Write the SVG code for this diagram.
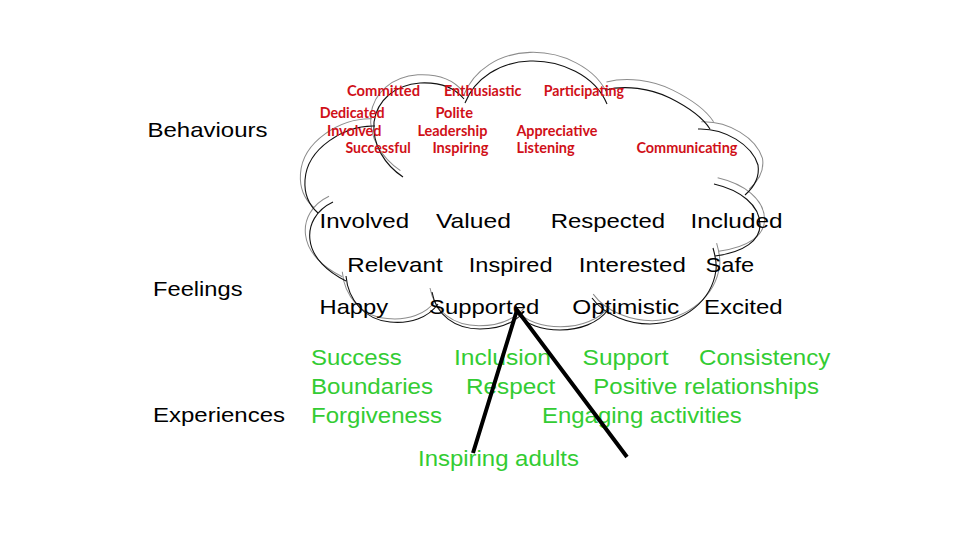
<svg xmlns="http://www.w3.org/2000/svg" width="960" height="540" viewBox="0 0 960 540">
<style>
  .bg{fill:#ffffff}
  .lobe{fill:none;stroke:#111111;stroke-width:1.1}
  .lobe2{fill:none;stroke:#8c8c8c;stroke-width:1}
  .lbl{font-family:"Liberation Sans",Arial,sans-serif;font-size:21px;fill:#000000}
  .beh{font-family:Lato,"Open Sans",sans-serif;font-weight:bold;font-size:15px;fill:#d01018}
  .feel{font-family:"Liberation Sans",Arial,sans-serif;font-size:21px;fill:#000000}
  .exp{font-family:"Liberation Sans",Arial,sans-serif;font-size:21.5px;fill:#33cc33}
  .conn{fill:none;stroke:#000000;stroke-width:4;stroke-linejoin:miter;stroke-linecap:butt}
</style>
<defs>
  <g id="cloudShape">
    <path d="M375,126 C345,125 307,148 305,180 C304,195 310,206 318,213"/>
    <path d="M403,177 C385,165 372,145 374,122 C377,100 395,85 420,83 C440,82 455,88 464,99"/>
    <path d="M465,103 C475,78 500,62 530,61 C560,60 595,75 607,104"/>
    <path d="M605,90 C625,85 650,88 670,98 C690,108 703,118 710,129"/>
    <path d="M698,129 C725,128 752,145 758,165 C760,178 753,188 745,195"/>
    <path d="M714,184 C740,190 760,205 760,225 C760,240 745,252 715,256"/>
    <path d="M713,248 C717,262 716,270 716,270 C712,300 685,323 650,324 C630,324 605,316 592,298"/>
    <path d="M517,313 C525,325 543,330 560,330 C580,330 598,323 608,310"/>
    <path d="M432,292 C436,315 455,329 480,329 C500,329 515,322 524,312"/>
    <path d="M346,276 C348,300 365,320 390,322 C410,324 428,318 438,304"/>
    <path d="M333,202 C316,210 308,225 310,240 C312,258 328,272 346,281"/>
  </g>
</defs>
<rect class="bg" x="0" y="0" width="960" height="540"/>

<g id="cloud">
  <use href="#cloudShape" class="lobe2" transform="translate(532 186) scale(1.02) translate(-532 -192)"/>
  <use href="#cloudShape" class="lobe"/>
</g>

<g id="labels">
  <text class="lbl" x="147.5" y="137.3" textLength="120" lengthAdjust="spacingAndGlyphs">Behaviours</text>
  <text class="lbl" x="153" y="295.5" textLength="89.5" lengthAdjust="spacingAndGlyphs">Feelings</text>
  <text class="lbl" x="153" y="421.7" textLength="132" lengthAdjust="spacingAndGlyphs">Experiences</text>
</g>

<g id="behaviours">
  <text class="beh" x="347" y="95.7" textLength="73" lengthAdjust="spacingAndGlyphs">Committed</text>
  <text class="beh" x="444" y="95.7" textLength="77.4" lengthAdjust="spacingAndGlyphs">Enthusiastic</text>
  <text class="beh" x="543.7" y="95.7" textLength="80.3" lengthAdjust="spacingAndGlyphs">Participating</text>
  <text class="beh" x="319.7" y="118.3" textLength="65" lengthAdjust="spacingAndGlyphs">Dedicated</text>
  <text class="beh" x="435.4" y="118.3" textLength="37.6" lengthAdjust="spacingAndGlyphs">Polite</text>
  <text class="beh" x="327" y="136" textLength="54.4" lengthAdjust="spacingAndGlyphs">Involved</text>
  <text class="beh" x="417.4" y="136" textLength="70" lengthAdjust="spacingAndGlyphs">Leadership</text>
  <text class="beh" x="516.4" y="136" textLength="81" lengthAdjust="spacingAndGlyphs">Appreciative</text>
  <text class="beh" x="345.4" y="153.3" textLength="65.3" lengthAdjust="spacingAndGlyphs">Successful</text>
  <text class="beh" x="432.4" y="153.3" textLength="56" lengthAdjust="spacingAndGlyphs">Inspiring</text>
  <text class="beh" x="516.4" y="153.3" textLength="58.3" lengthAdjust="spacingAndGlyphs">Listening</text>
  <text class="beh" x="636.4" y="153.3" textLength="101" lengthAdjust="spacingAndGlyphs">Communicating</text>
</g>

<g id="feelings">
  <text class="feel" x="319.5" y="228.3" textLength="89.6" lengthAdjust="spacingAndGlyphs">Involved</text>
  <text class="feel" x="436" y="228.3" textLength="75" lengthAdjust="spacingAndGlyphs">Valued</text>
  <text class="feel" x="550.7" y="228.3" textLength="114.3" lengthAdjust="spacingAndGlyphs">Respected</text>
  <text class="feel" x="690.5" y="228.3" textLength="92" lengthAdjust="spacingAndGlyphs">Included</text>
  <text class="feel" x="347.3" y="271.7" textLength="95.4" lengthAdjust="spacingAndGlyphs">Relevant</text>
  <text class="feel" x="468.8" y="271.7" textLength="83.7" lengthAdjust="spacingAndGlyphs">Inspired</text>
  <text class="feel" x="578.8" y="271.7" textLength="107" lengthAdjust="spacingAndGlyphs">Interested</text>
  <text class="feel" x="705.5" y="271.7" textLength="48.6" lengthAdjust="spacingAndGlyphs">Safe</text>
  <text class="feel" x="319.5" y="314" textLength="68.6" lengthAdjust="spacingAndGlyphs">Happy</text>
  <text class="feel" x="429" y="314" textLength="110.3" lengthAdjust="spacingAndGlyphs">Supported</text>
  <text class="feel" x="572.3" y="314" textLength="107" lengthAdjust="spacingAndGlyphs">Optimistic</text>
  <text class="feel" x="704" y="314" textLength="78.7" lengthAdjust="spacingAndGlyphs">Excited</text>
</g>

<g id="experiences">
  <text class="exp" x="311" y="365" textLength="90.7" lengthAdjust="spacingAndGlyphs">Success</text>
  <text class="exp" x="454" y="365" textLength="97" lengthAdjust="spacingAndGlyphs">Inclusion</text>
  <text class="exp" x="582.6" y="365" textLength="85.9" lengthAdjust="spacingAndGlyphs">Support</text>
  <text class="exp" x="699" y="365" textLength="131.3" lengthAdjust="spacingAndGlyphs">Consistency</text>
  <text class="exp" x="311" y="394" textLength="122" lengthAdjust="spacingAndGlyphs">Boundaries</text>
  <text class="exp" x="466" y="394" textLength="89.3" lengthAdjust="spacingAndGlyphs">Respect</text>
  <text class="exp" x="593.3" y="394" textLength="225.6" lengthAdjust="spacingAndGlyphs">Positive relationships</text>
  <text class="exp" x="311" y="423" textLength="131" lengthAdjust="spacingAndGlyphs">Forgiveness</text>
  <text class="exp" x="542" y="423" textLength="199.7" lengthAdjust="spacingAndGlyphs">Engaging activities</text>
  <text class="exp" x="418" y="466" textLength="161" lengthAdjust="spacingAndGlyphs">Inspiring adults</text>
</g>

<g id="connectors">
  <path class="conn" d="M473,453 L517,310 L627,457"/>
</g>
</svg>
